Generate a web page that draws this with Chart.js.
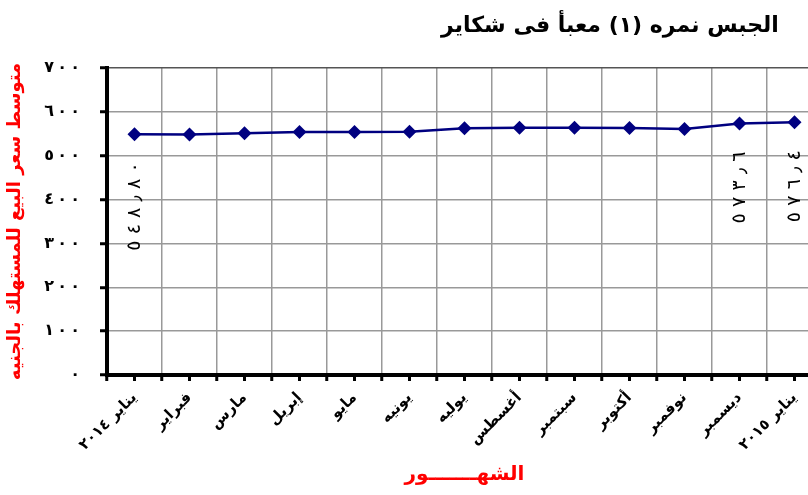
<!DOCTYPE html>
<html><head><meta charset="utf-8">
<script src="https://cdn.jsdelivr.net/npm/chart.js@4"></script>
<style>
html,body{margin:0;padding:0;background:#fff;overflow:hidden}
#wrap{width:808px;height:495px;overflow:hidden;position:relative;background:#fff}
#c{position:absolute;left:0;top:0}
</style></head><body>
<div id="wrap"><canvas id="c" width="830" height="495"></canvas></div>
<script>
const chartTitle = 'الجبس نمره (١) معبأ فى شكاير';
const yTitle = 'متوسط سعر البيع للمستهلك بالجنيه';
const xTitle = 'الشهـــــــور';
const months = ['يناير ٢٠١٤','فبراير','مارس','إبريل','مايو','يونيه','يوليه','أغسطس','سبتمبر','أكتوبر','نوفمبر','ديسمبر','يناير ٢٠١٥'];
const prices = [548.8, 548.5, 551, 554, 554, 554.5, 562.5, 563.5, 563.5, 563, 561, 573.6, 576.4];
const yTicks = [0, 100, 200, 300, 400, 500, 600, 700];
const labelledPoints = [0, 11, 12];
const labelDecimals = [2, 1, 1];

const AR = '٠١٢٣٤٥٦٧٨٩';
const LRM = '\u200E';
const toAr = s => String(s).replace(/[0-9]/g, d => AR[+d]).replace('.', '٫');
const spaced = (s, sp) => LRM + Array.from(s).join(LRM + sp + LRM) + LRM;
const FONT = '"DejaVu Sans", sans-serif';

const extras = {
  id: 'extras',
  afterDatasetsDraw(chart) {
    const {ctx, scales: {x, y}} = chart;
    ctx.save();
    ctx.fillStyle = '#000';
    months.forEach((m, i) => {
      const px = x.getPixelForValue(i);
      ctx.fillRect(px - 1.5, y.bottom, 3, 6);
    });
    const meta = chart.getDatasetMeta(0);
    ctx.font = '19px ' + FONT;
    labelledPoints.forEach((idx, k) => {
      const pt = meta.data[idx];
      ctx.save();
      ctx.translate(pt.x + 1, pt.y + 28);
      ctx.rotate(-Math.PI / 2);
      ctx.textAlign = 'right';
      ctx.textBaseline = 'middle';
      ctx.fillText(spaced(toAr(prices[idx].toFixed(labelDecimals[k])), '\u2004'), 0, 0);
      ctx.restore();
    });
    ctx.font = 'bold 22px ' + FONT;
    ctx.textAlign = 'center';
    ctx.textBaseline = 'middle';
    ctx.fillText(chartTitle, 610, 26);
    ctx.restore();
  }
};

new Chart(document.getElementById('c'), {
  type: 'line',
  data: {
    labels: months,
    datasets: [{
      data: prices,
      borderColor: '#000080',
      backgroundColor: '#000080',
      borderWidth: 2.5,
      pointStyle: 'rectRot',
      pointRadius: 7,
      pointHoverRadius: 7,
      pointBorderWidth: 0,
      tension: 0,
      fill: false
    }]
  },
  options: {
    responsive: false,
    animation: false,
    events: [],
    layout: {padding: {top: 68, right: 8, left: 0, bottom: 0}},
    plugins: {legend: {display: false}, tooltip: {enabled: false}},
    scales: {
      x: {
        offset: true,
        grid: {offset: true, color: '#999', lineWidth: 1.5, tickColor: '#000', tickWidth: 3, tickLength: 6},
        border: {color: '#000', width: 4},
        ticks: {minRotation: 45, maxRotation: 45, autoSkip: false, color: '#000', padding: 8,
                font: {family: FONT, size: 15, weight: 'bold'}},
        title: {display: true, text: xTitle, color: '#ff0000',
                font: {family: FONT, size: 20, weight: 'bold'}, padding: {top: 0, bottom: 8}},
        afterFit(s) { s.height = 120; }
      },
      y: {
        min: 0, max: 700,
        afterBuildTicks(s) { s.ticks = yTicks.map(v => ({value: v})); },
        ticks: {callback: v => spaced(toAr(v), '\u2009'), color: '#000', padding: 20,
                font: {family: FONT, size: 16, weight: 'bold'}},
        grid: {color: c => (c.tick && c.tick.value === 700) ? '#555' : '#999', lineWidth: 1.5,
               tickColor: '#000', tickWidth: 3, tickLength: 7},
        border: {color: '#000', width: 4},
        title: {display: true, text: yTitle, color: '#ff0000',
                font: {family: FONT, size: 18, weight: 'bold'}, padding: {top: 5, bottom: 0}},
        afterFit(s) { s.width = 107; }
      }
    }
  },
  plugins: [extras]
});
</script>
</body></html>
